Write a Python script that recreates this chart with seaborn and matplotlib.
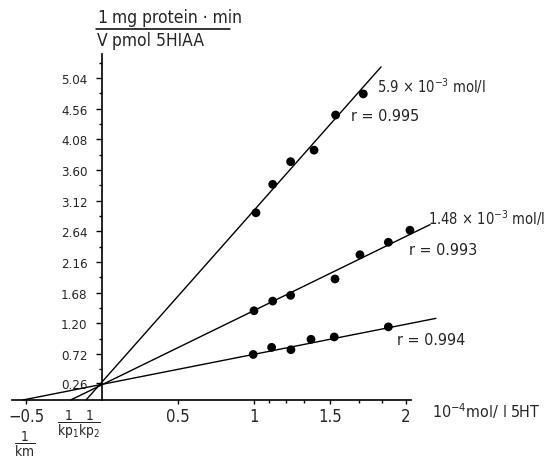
import numpy as np
import pandas as pd
import matplotlib
matplotlib.use("Agg")
import matplotlib.pyplot as plt
from matplotlib.lines import Line2D
from matplotlib import font_manager
import seaborn as sns

# ---------------- data ----------------
series_names = ["5.9e-3", "1.48e-3", "0"]

x_high = [1.013, 1.123, 1.241, 1.395, 1.537, 1.719]
y_high = [2.93, 3.375, 3.73, 3.91, 4.46, 4.79]

x_mid = [1.000, 1.123, 1.241, 1.533, 1.697, 1.884, 2.026]
y_mid = [1.397, 1.548, 1.638, 1.894, 2.273, 2.468, 2.657]

x_low = [0.995, 1.116, 1.243, 1.375, 1.528, 1.884]
y_low = [0.713, 0.824, 0.787, 0.950, 0.987, 1.145]

# regression lines: slope, y-intercept, x-range drawn
line_slopes = [2.686, 1.161, 0.470]
line_intercepts = [0.282, 0.239, 0.245]
line_x_start = [-0.105, -0.206, -0.52]
line_x_end = [1.836, 2.158, 2.197]

y_tick_values = [0.26, 0.72, 1.20, 1.68, 2.16, 2.64, 3.12, 3.60, 4.08, 4.56, 5.04]
y_tick_labels = ["0.26", "0.72", "1.20", "1.68", "2.16", "2.64", "3.12", "3.60", "4.08", "4.56", "5.04"]
y_minor_values = [0.48, 0.96, 1.44, 1.92, 2.40, 2.88, 3.36, 3.84, 4.32, 4.80, 5.28]
x_tick_values = [-0.5, 0.5, 1.0, 1.5, 2.0]
x_tick_labels = ["\u22120.5", "0.5", "1", "1.5", "2"]
x_minor_values = [1.1, 1.21, 1.33, 1.69, 1.84]

series_labels = ["5.9 \u00d7 10$^{-3}$ mol/l", "1.48 \u00d7 10$^{-3}$ mol/l"]
r_labels = ["r = 0.995", "r = 0.993", "r = 0.994"]

# ---------------- figure ----------------
sns.set_theme(style="white")
plt.rcParams["font.family"] = ["DejaVu Sans"]
fp = font_manager.FontProperties(family="DejaVu Sans", stretch="condensed")
cond_file = font_manager.findfont(fp, fallback_to_default=True)
condensed = "ondensed" in cond_file
if condensed:
    plt.rcParams["font.stretch"] = "condensed"
    plt.rcParams["mathtext.fontset"] = "custom"
    plt.rcParams["mathtext.rm"] = "DejaVu Sans:stretch=condensed"
    plt.rcParams["mathtext.it"] = "DejaVu Sans:stretch=condensed"
    plt.rcParams["mathtext.bf"] = "DejaVu Sans:stretch=condensed"
    plt.rcParams["mathtext.sf"] = "DejaVu Sans:stretch=condensed"
    fs_text, fs_ser, fs_head, fs_xt, fs_yt, fs_frac = 11.5, 10.5, 12.5, 12, 9.5, 9.8
else:
    plt.rcParams["mathtext.fontset"] = "dejavusans"
    fs_text, fs_ser, fs_head, fs_xt, fs_yt, fs_frac = 9.5, 8.8, 10.5, 10.5, 9, 8.5

W, H = 544, 460
fig = plt.figure(figsize=(W / 100, H / 100), dpi=100)
fig.patch.set_facecolor("white")

# axes geometry: x=0 at px 102, 152 px/unit ; y=0 at px 401, 63.9 px/unit
x0_px, xs = 102.0, 152.0
y0_px, ys = 401.0, 63.9
xlim = (-0.66, 2.86)
ylim = (-0.9, 6.2)
left_px = x0_px + xlim[0] * xs
right_px = x0_px + xlim[1] * xs
bottom_px = y0_px - ylim[0] * ys
top_px = y0_px - ylim[1] * ys
ax = fig.add_axes([left_px / W, 1 - bottom_px / H,
                   (right_px - left_px) / W, (bottom_px - top_px) / H])
ax.set_xlim(*xlim)
ax.set_ylim(*ylim)
ax.set_facecolor("white")

# points
df = pd.DataFrame({
    "x": x_high + x_mid + x_low,
    "y": y_high + y_mid + y_low,
    "series": [series_names[0]] * len(x_high) + [series_names[1]] * len(x_mid)
              + [series_names[2]] * len(x_low),
})
sns.scatterplot(data=df, x="x", y="y", hue="series",
                palette=["black", "black", "black"], s=40, linewidth=0,
                legend=False, ax=ax, zorder=3)

# regression lines
for name, m, b, xa, xb in zip(series_names, line_slopes, line_intercepts,
                              line_x_start, line_x_end):
    xx = np.array([xa, xb])
    ldf = pd.DataFrame({"x": xx, "y": m * xx + b})
    sns.lineplot(data=ldf, x="x", y="y", color="black", lw=1.0, ax=ax,
                 estimator=None, sort=False)

ax.set_xlabel("")
ax.set_ylabel("")

# axes through origin
for s in ["top", "right"]:
    ax.spines[s].set_visible(False)
ax.spines["left"].set_position(("data", 0))
ax.spines["bottom"].set_position(("data", 0))
ax.spines["left"].set_bounds(0, 5.41)
ax.spines["bottom"].set_bounds(-0.594, 2.03)
for s in ["left", "bottom"]:
    ax.spines[s].set_color("black")
    ax.spines[s].set_linewidth(1.2)

ax.set_yticks(y_tick_values)
ax.set_yticklabels(y_tick_labels, fontsize=fs_yt)
ax.set_yticks(y_minor_values, minor=True)
ax.set_xticks(x_tick_values)
ax.set_xticklabels(x_tick_labels, fontsize=fs_xt)
ax.set_xticks(x_minor_values, minor=True)
ax.tick_params(axis="y", which="major", direction="out", length=4.5, width=1,
               color="black", pad=6, left=True)
ax.tick_params(axis="y", which="minor", direction="out", length=2.5, width=1,
               color="black", left=True)
ax.tick_params(axis="x", which="major", direction="out", length=3, width=1,
               color="black", pad=2, bottom=True)
ax.tick_params(axis="x", which="minor", direction="out", length=2, width=1,
               color="black", bottom=True)
ax.grid(False)

# y axis title (1/V  mg protein . min / pmol 5HIAA)
def fx(px):
    return px / W

def fy(py):
    return 1 - py / H

fig.text(fx(102), fy(18), "1", fontsize=fs_head, ha="center", va="center")
fig.text(fx(102), fy(41), "V", fontsize=fs_head, ha="center", va="center")
fig.text(fx(112), fy(18), "mg protein \u00b7 min", fontsize=fs_head, ha="left", va="center")
fig.text(fx(112), fy(41), "pmol 5HIAA", fontsize=fs_head, ha="left", va="center")
fig.add_artist(Line2D([fx(96), fx(230)], [fy(30), fy(30)], color="black", lw=1.1))

# x axis unit
ax.text(2.17, -0.16, r"10$^{-4}$mol/ l 5HT", fontsize=fs_text, ha="left", va="center")

# intercept labels
ax.text(-0.222, -0.37, r"$\dfrac{1}{\mathrm{kp}_1}$", fontsize=fs_frac, ha="center", va="center")
ax.text(-0.082, -0.37, r"$\dfrac{1}{\mathrm{kp}_2}$", fontsize=fs_frac, ha="center", va="center")
ax.text(-0.51, -0.68, r"$\dfrac{1}{\mathrm{km}}$", fontsize=fs_frac, ha="center", va="center")

# series annotations
ax.text(1.81, 4.92, series_labels[0], fontsize=fs_ser, ha="left", va="center")
ax.text(1.635, 4.45, r_labels[0], fontsize=fs_text, ha="left", va="center")
ax.text(2.145, 2.86, series_labels[1], fontsize=fs_ser, ha="left", va="center")
ax.text(2.02, 2.35, r_labels[1], fontsize=fs_text, ha="left", va="center")
ax.text(1.94, 0.95, r_labels[2], fontsize=fs_text, ha="left", va="center")

fig.savefig("out.png", dpi=100, facecolor="white")
